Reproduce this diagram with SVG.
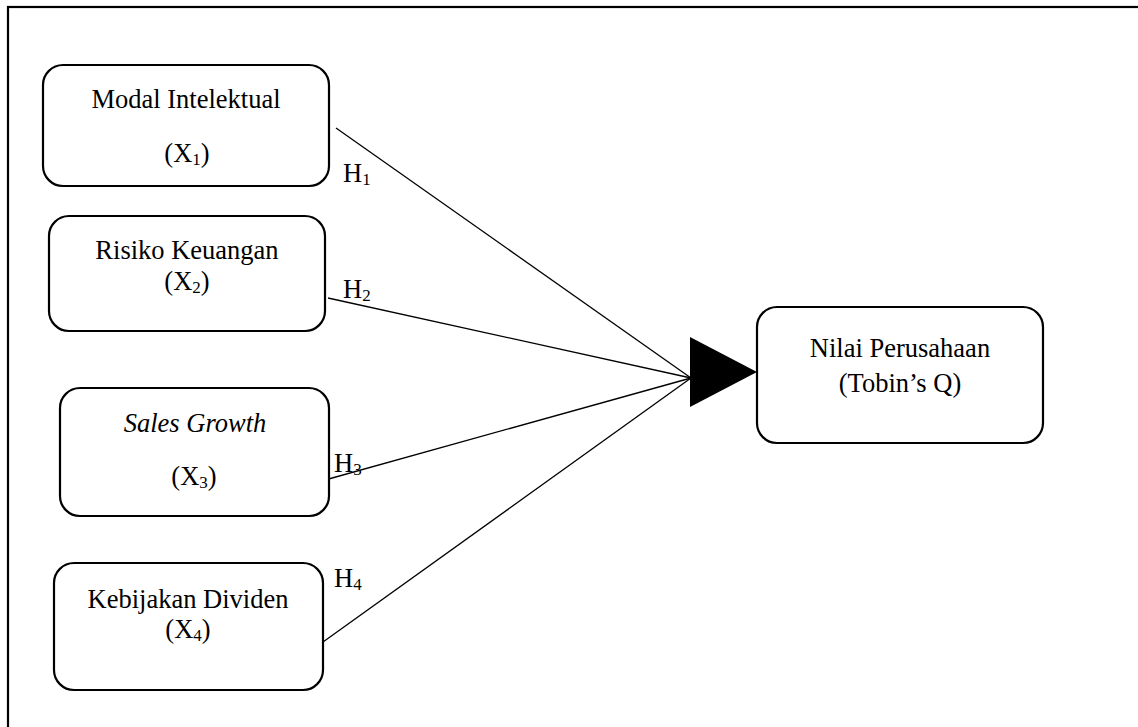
<svg xmlns="http://www.w3.org/2000/svg" width="1138" height="727" viewBox="0 0 1138 727">
<style>
.box{fill:#fff;stroke:#000;stroke-width:2.2}
.t{font-family:"Liberation Serif","Times New Roman",serif;font-size:26.5px;fill:#000;text-anchor:middle}
.h{font-family:"Liberation Serif","Times New Roman",serif;font-size:26.5px;fill:#000}
.sub{font-size:17px}
.ln{stroke:#000;stroke-width:1.3;fill:none}
</style>
<rect width="1138" height="727" fill="#fff"/>
<rect x="8" y="7" width="1200" height="800" fill="none" stroke="#000" stroke-width="2.2"/>
<g id="connectors">
<line class="ln" x1="336" y1="128" x2="691" y2="378"/>
<line class="ln" x1="328" y1="298" x2="691" y2="378"/>
<line class="ln" x1="325" y1="480" x2="691" y2="378"/>
<line class="ln" x1="323" y1="642" x2="691" y2="378"/>
<polygon points="690,337 757,372 690,407" fill="#000"/>
<text class="h" x="343" y="182">H<tspan class="sub" dy="3">1</tspan></text>
<text class="h" x="343" y="298">H<tspan class="sub" dy="3">2</tspan></text>
<text class="h" x="334" y="472">H<tspan class="sub" dy="3">3</tspan></text>
<text class="h" x="334" y="587">H<tspan class="sub" dy="3">4</tspan></text>
</g>
<g id="x1">
<rect class="box" x="43" y="65" width="286" height="121" rx="20"/>
<text class="t" x="186" y="108">Modal Intelektual</text>
<text class="t" x="187" y="162">(X<tspan class="sub" dy="3">1</tspan><tspan dy="-3">)</tspan></text>
</g>
<g id="x2">
<rect class="box" x="49" y="216" width="276" height="115" rx="20"/>
<text class="t" x="187" y="259">Risiko Keuangan</text>
<text class="t" x="187" y="290">(X<tspan class="sub" dy="3">2</tspan><tspan dy="-3">)</tspan></text>
</g>
<g id="x3">
<rect class="box" x="60" y="388" width="269" height="128" rx="20"/>
<text class="t" x="195" y="432" font-style="italic">Sales Growth</text>
<text class="t" x="194" y="485">(X<tspan class="sub" dy="3">3</tspan><tspan dy="-3">)</tspan></text>
</g>
<g id="x4">
<rect class="box" x="54" y="563" width="269" height="127" rx="20"/>
<text class="t" x="188" y="608">Kebijakan Dividen</text>
<text class="t" x="188" y="638">(X<tspan class="sub" dy="3">4</tspan><tspan dy="-3">)</tspan></text>
</g>
<g id="y">
<rect class="box" x="757" y="307" width="286" height="136" rx="20"/>
<text class="t" x="900" y="357">Nilai Perusahaan</text>
<text class="t" x="900" y="392">(Tobin’s Q)</text>
</g>
</svg>
